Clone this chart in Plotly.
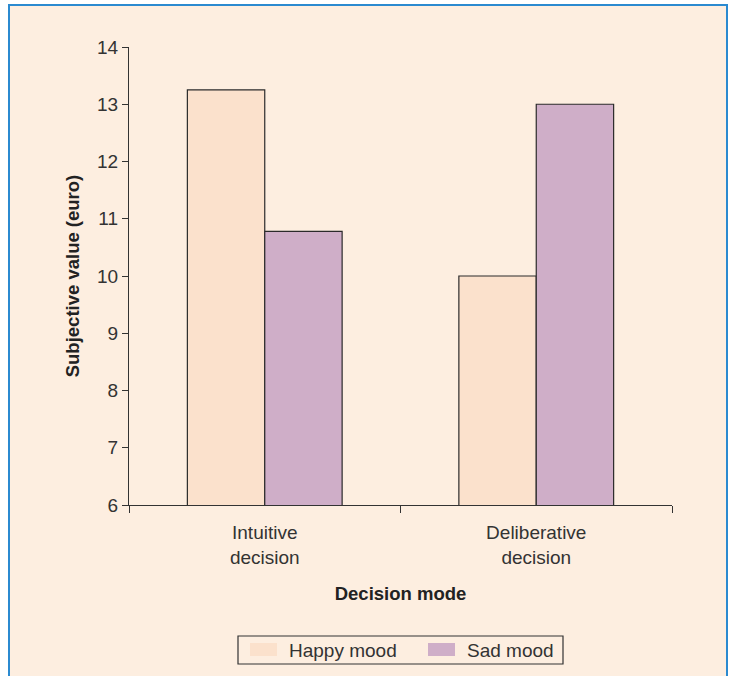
import plotly.graph_objects as go

# Subjective value (euro) by decision mode and mood
categories = ["Intuitive<br>decision", "Deliberative<br>decision"]
happy_mood = [13.25, 10.0]
sad_mood = [10.78, 13.0]
y_ticks = [6, 7, 8, 9, 10, 11, 12, 13, 14]

INK = "#333333"
CREAM = "#fdeee0"
HAPPY = "#fbe1cc"
SAD = "#cfaec8"

# plot area in pixels, used to place paper-space decorations
L, R, T, B = 129, 672, 47, 505


def px(x):
    return (x - L) / (R - L)


def py(y):
    return (B - y) / (B - T)


fig = go.Figure()
fig.add_trace(go.Bar(
    x=categories, y=happy_mood, name="Happy mood", showlegend=False,
    marker=dict(color=HAPPY, line=dict(color="#2b2b2b", width=1.2)),
))
fig.add_trace(go.Bar(
    x=categories, y=sad_mood, name="Sad mood", showlegend=False,
    marker=dict(color=SAD, line=dict(color="#2b2b2b", width=1.2)),
))

shapes = [
    # framed panel behind the chart
    dict(type="rect", xref="paper", yref="paper",
         x0=px(9), x1=px(727), y0=py(700), y1=py(5),
         fillcolor=CREAM, line=dict(color="#2b8ad0", width=2), layer="below"),
    # legend box
    dict(type="rect", xref="paper", yref="paper",
         x0=px(238), x1=px(563), y0=py(664), y1=py(636),
         fillcolor=CREAM, line=dict(color=INK, width=1.2)),
]
annotations = []
legend_items = [("Happy mood", HAPPY, 250), ("Sad mood", SAD, 428)]
for name, color, sx in legend_items:
    shapes.append(dict(type="rect", xref="paper", yref="paper",
                       x0=px(sx), x1=px(sx + 27), y0=py(656), y1=py(643),
                       fillcolor=color, line=dict(width=0)))
    annotations.append(dict(text=name, xref="paper", yref="paper",
                            x=px(sx + 37), y=py(650), xanchor="left", yanchor="middle",
                            showarrow=False, font=dict(size=19, color=INK)))

fig.update_layout(
    width=730, height=676,
    margin=dict(l=L, r=730 - R, t=T, b=676 - B),
    paper_bgcolor="white",
    plot_bgcolor="rgba(0,0,0,0)",
    barmode="group",
    bargap=0.43,
    bargroupgap=0,
    font=dict(family="Liberation Sans, Arial, sans-serif", size=19, color=INK),
    showlegend=False,
    shapes=shapes,
    annotations=annotations,
    xaxis=dict(
        automargin=False,
        showline=True, linecolor=INK, linewidth=1.2,
        ticks="outside", ticklen=7, tickcolor=INK, tickwidth=1.2,
        tickson="boundaries", showgrid=False,
        ticklabelstandoff=10,
        tickfont=dict(size=19, color=INK),
        title=dict(text="<b>Decision mode</b>", font=dict(size=18.5, color="#222"), standoff=20),
    ),
    yaxis=dict(
        automargin=False,
        range=[6, 14], tickvals=y_ticks,
        showline=True, linecolor=INK, linewidth=1.2,
        ticks="outside", ticklen=6, tickcolor=INK, tickwidth=1.2,
        showgrid=False, zeroline=False,
        tickfont=dict(size=19, color=INK),
        title=dict(text="<b>Subjective value (euro)</b>", font=dict(size=18.5, color="#222"), standoff=12),
    ),
)

fig.write_html("out.html")
